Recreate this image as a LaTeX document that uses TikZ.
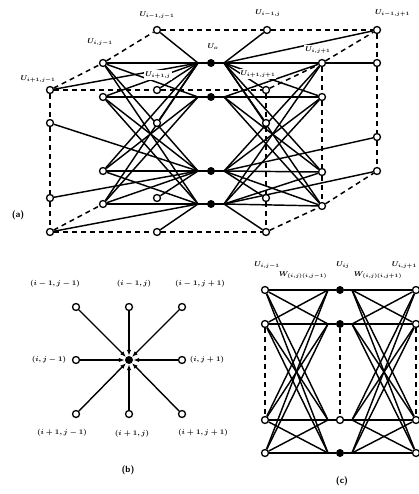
\documentclass[tikz,border=0pt]{standalone}
\usetikzlibrary{arrows.meta,backgrounds}
\begin{document}
\begin{tikzpicture}[x=1pt,y=-1pt,
  opennode/.style={circle,draw,line width=1.3pt,fill=white,inner sep=0pt,minimum size=7pt},
  fullnode/.style={circle,fill,inner sep=0pt,minimum size=8pt},
  edge/.style={line width=1.45pt},
  dashedge/.style={line width=1.5pt,dash pattern=on 5pt off 4pt},
  lab/.style={font=\scriptsize\boldmath,inner sep=1pt},
  tag/.style={font=\sffamily\bfseries\small,inner sep=1pt},
  arr/.style={line width=1.4pt,-{Latex[length=6pt,width=4.5pt]}}]
\useasboundingbox (0,0) rectangle (418,494);

% ---------------- (a) ----------------
\foreach \k/\y in {0/63,1/97,2/171,3/204}{
  \node[fullnode] (F\k) at (211,\y) {};
  \coordinate (F\k l) at (198,\y);
  \coordinate (F\k r) at (224,\y);
}
\foreach \k/\y in {0/63,1/97,2/171,3/204}{
  \node[opennode] (M\k) at (103,\y) {};
}
\foreach \k/\y in {0/63,1/97,2/172,3/206}{
  \node[opennode] (R\k) at (322,\y) {};
}
\foreach \k/\y in {0/90,1/123,2/198,3/232}{
  \node[opennode] (A\k) at (50,\y) {};
  \node[opennode] (B\k) at (157,\y) {};
  \node[opennode] (C\k) at (266,\y) {};
}
\foreach \k/\y in {0/30,1/63,2/137,3/171}{
  \node[opennode] (D\k) at (377,\y) {};
}
\node[opennode] (K1) at (157,30) {};
\node[opennode] (K2) at (267,30) {};

\begin{pgfonlayer}{background}
% dashed box
\draw[dashedge] (K1) -- (K2) -- (D0);
\draw[dashedge] (A0) -- (M0) -- (K1);
\draw[dashedge] (A0) -- (B0) -- (C0);
\draw[dashedge] (C0) -- (R0) -- (D0);
\draw[dashedge] (A0) -- (A1) -- (A2) -- (A3);
\draw[dashedge] (C0) -- (C1) -- (C2) -- (C3);
\draw[dashedge] (R0) -- (R1) -- (R2) -- (R3);
\draw[dashedge] (D0) -- (D1) -- (D2) -- (D3);
\draw[dashedge] (A3) -- (B3) -- (C3);
\draw[dashedge] (C3) -- (R3) -- (D3);
\draw[dashedge] (A3) -- (M3);

% solid connections
\foreach \k in {0,...,3}{
  \draw[edge] (F\k l) -- (F\k r);
}
\foreach \a in {0,...,3}{
  \foreach \b in {0,...,3}{
    \draw[edge] (M\a) -- (F\b l);
    \draw[edge] (R\a) -- (F\b r);
  }
}
\draw[edge] (K1) -- (F0l);
\draw[edge] (K2) -- (F0r);
\draw[edge] (D0) -- (F0r);
\draw[edge] (D1) -- (F0r);
\draw[edge] (D2) -- (F2r);
\draw[edge] (D3) -- (F3r);
\draw[edge] (A0) -- (F0l);
\draw[edge] (A1) -- (F2l);
\draw[edge] (A2) -- (F2l);
\draw[edge] (A3) -- (F3l);
\draw[edge] (B0) -- (F0l);
\draw[edge] (B1) -- (F0l);
\draw[edge] (B2) -- (F2l);
\draw[edge] (B3) -- (F3l);
\draw[edge] (C0) -- (F0r);
\draw[edge] (C1) -- (F0r);
\draw[edge] (C2) -- (F2r);
\draw[edge] (C3) -- (F3r);
\end{pgfonlayer}

% labels (a)
\node[lab] (la1) at (157,15) {$U_{i-1,j-1}$};
\node[lab] (la2) at (268,13) {$U_{i-1,j}$};
\node[lab,anchor=west] (la3) at (374,13) {$U_{i-1,j+1}$};
\node[lab] (la4) at (100,42) {$U_{i,j-1}$};
\node[lab] (la5) at (213,47) {$U_{o}$};
\node[lab,fill=white] (la6) at (318,50) {$U_{i,j+1}$};
\node[lab] (la7) at (38,79) {$U_{i+1,j-1}$};
\node[lab,fill=white] (la8) at (158,75) {$U_{i+1,j}$};
\node[lab,fill=white] (la9) at (258,74) {$U_{i+1,j+1}$};
\node[tag] (ta) at (18,215) {(a)};

% ---------------- (b) ----------------
\node[fullnode] (bc) at (129,360) {};
\node[opennode] (b11) at (76,307) {};
\node[opennode] (b12) at (129,307) {};
\node[opennode] (b13) at (182,307) {};
\node[opennode] (b21) at (76,360) {};
\node[opennode] (b23) at (182,360) {};
\node[opennode] (b31) at (76,414) {};
\node[opennode] (b32) at (129,414) {};
\node[opennode] (b33) at (182,414) {};
\foreach \n in {b11,b12,b13,b21,b23,b31,b32,b33}{
  \draw[arr] (\n) -- (bc);
}
\node[lab] (lb11) at (55,284) {$(i-1,j-1)$};
\node[lab] (lb12) at (134,284) {$(i-1,j)$};
\node[lab] (lb13) at (200,284) {$(i-1,j+1)$};
\node[lab] (lb21) at (49,360) {$(i,j-1)$};
\node[lab] (lb23) at (207,360) {$(i,j+1)$};
\node[lab] (lb31) at (62,433) {$(i+1,j-1)$};
\node[lab] (lb32) at (132,434) {$(i+1,j)$};
\node[lab] (lb33) at (203,433) {$(i+1,j+1)$};
\node[tag] (tb) at (128,470) {(b)};

% ---------------- (c) ----------------
\foreach \k/\y in {0/290,1/324,2/420,3/453}{
  \node[opennode] (cl\k) at (265,\y) {};
  \node[opennode] (cr\k) at (416,\y) {};
  \coordinate (cm\k l) at (328,\y);
  \coordinate (cm\k r) at (352,\y);
}
\node[fullnode] (cm0) at (340,290) {};
\node[fullnode] (cm1) at (340,324) {};
\node[opennode] (cm2) at (340,420) {};
\node[fullnode] (cm3) at (340,453) {};
\begin{pgfonlayer}{background}
\draw[dashedge] (cl1) -- (cl2);
\draw[dashedge] (cm1) -- (cm2);
\draw[dashedge] (cr1) -- (cr2);
\foreach \a in {0,...,3}{
  \draw[edge] (cm\a l) -- (cm\a);
  \draw[edge] (cm\a) -- (cm\a r);
  \foreach \b in {0,...,3}{
    \draw[edge] (cl\a) -- (cm\b l);
    \draw[edge] (cr\a) -- (cm\b r);
  }
}
\end{pgfonlayer}
\node[lab] (lc1) at (267,265) {$U_{i,j-1}$};
\node[lab] (lc2) at (303,275) {$W_{(i,j)(i,j-1)}$};
\node[lab] (lc3) at (343,265) {$U_{ij}$};
\node[lab] (lc4) at (378,275) {$W_{(i,j)(i,j+1)}$};
\node[lab,anchor=east] (lc5) at (418,265) {$U_{i,j+1}$};
\node[tag] (tc) at (342,481) {(c)};
\end{tikzpicture}
\end{document}
